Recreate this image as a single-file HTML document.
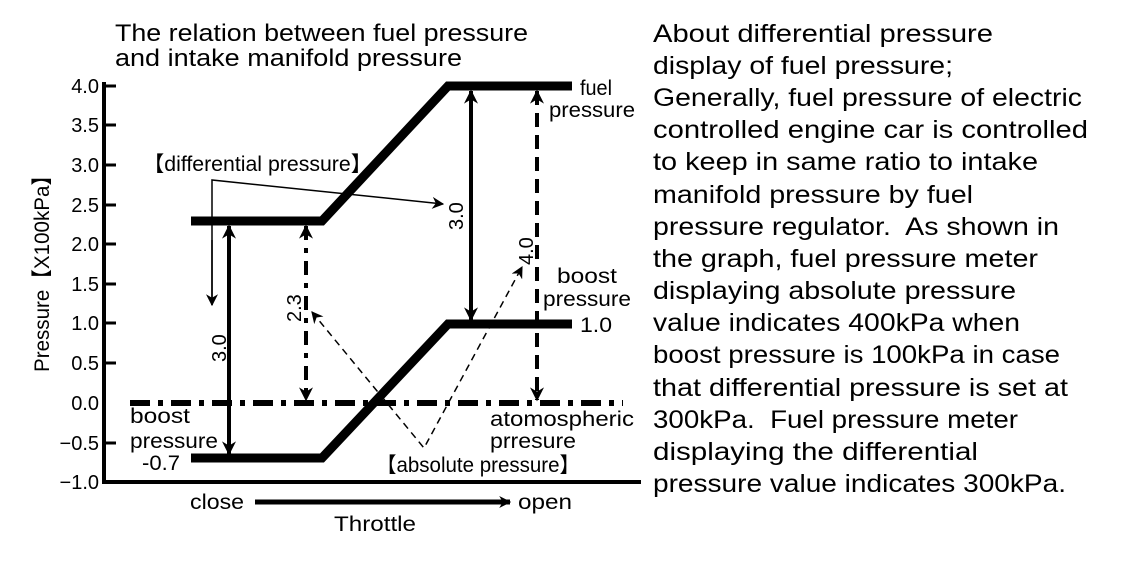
<!DOCTYPE html>
<html><head><meta charset="utf-8"><style>
html,body{margin:0;padding:0;background:#fff;}
svg{display:block;}
text{font-family:"Liberation Sans",sans-serif;fill:#000;}
</style></head><body>
<svg width="1131" height="570" viewBox="0 0 1131 570" xmlns="http://www.w3.org/2000/svg">
<defs>
<marker id="ahb" viewBox="0 0 10 10" refX="9" refY="5" markerWidth="16" markerHeight="14" orient="auto-start-reverse" markerUnits="userSpaceOnUse">
<path d="M0,0 L10,5 L0,10 L3,5 Z" fill="#000"/></marker>
<marker id="ahs" viewBox="0 0 10 10" refX="9" refY="5" markerWidth="12" markerHeight="12" orient="auto-start-reverse" markerUnits="userSpaceOnUse">
<path d="M0,0 L10,5 L0,10 L3,5 Z" fill="#000"/></marker>
</defs>

<text x="115" y="41" font-size="24" textLength="413" lengthAdjust="spacingAndGlyphs">The relation between fuel pressure</text>
<text x="115" y="66" font-size="24" textLength="347" lengthAdjust="spacingAndGlyphs">and intake manifold pressure</text>

<path d="M104,82 V482 H641" stroke="#000" stroke-width="4" fill="none"/>
<g stroke="#000" stroke-width="3">
<line x1="104" y1="86" x2="116" y2="86"/><line x1="104" y1="125" x2="116" y2="125"/>
<line x1="104" y1="165" x2="116" y2="165"/><line x1="104" y1="205" x2="116" y2="205"/>
<line x1="104" y1="244" x2="116" y2="244"/><line x1="104" y1="284" x2="116" y2="284"/>
<line x1="104" y1="323" x2="116" y2="323"/><line x1="104" y1="363" x2="116" y2="363"/>
<line x1="104" y1="443" x2="116" y2="443"/>
</g>
<g font-size="20" text-anchor="end">
<text x="99" y="93">4.0</text><text x="99" y="132">3.5</text><text x="99" y="172">3.0</text>
<text x="99" y="212">2.5</text><text x="99" y="251">2.0</text><text x="99" y="291">1.5</text>
<text x="99" y="330">1.0</text><text x="99" y="370">0.5</text><text x="99" y="410">0.0</text>
<text x="99" y="450">−0.5</text><text x="99" y="489">−1.0</text>
</g>
<text transform="translate(49,372) rotate(-90)" font-size="21" textLength="207" lengthAdjust="spacingAndGlyphs">Pressure【X100kPa】</text>

<line x1="130" y1="403" x2="623" y2="403" stroke="#000" stroke-width="6" stroke-dasharray="20,8,5,8"/>

<polyline points="191,221 322,221 448,86 572,86" stroke="#000" stroke-width="9" fill="none"/>
<polyline points="191,458 322,458 448,324 572,324" stroke="#000" stroke-width="9" fill="none"/>

<line x1="229" y1="226" x2="229" y2="454" stroke="#000" stroke-width="4" marker-start="url(#ahb)" marker-end="url(#ahb)"/>
<line x1="306" y1="226" x2="306" y2="400" stroke="#000" stroke-width="4" stroke-dasharray="14,8,5,8" marker-start="url(#ahb)" marker-end="url(#ahb)"/>
<line x1="471" y1="91" x2="471" y2="320" stroke="#000" stroke-width="4" marker-start="url(#ahb)" marker-end="url(#ahb)"/>
<line x1="537" y1="91" x2="537" y2="400" stroke="#000" stroke-width="4" stroke-dasharray="14,8" marker-start="url(#ahb)" marker-end="url(#ahb)"/>

<polyline points="212,305 212,180 443,204" stroke="#000" stroke-width="1.5" fill="none" marker-end="url(#ahs)"/>
<line x1="212" y1="240" x2="212" y2="305" stroke="#000" stroke-width="1.5" marker-end="url(#ahs)"/>
<polyline points="312,312 424,448 522,267" stroke="#000" stroke-width="1.5" fill="none" stroke-dasharray="7,5" marker-start="url(#ahs)" marker-end="url(#ahs)"/>

<text x="143" y="171" font-size="21" textLength="229" lengthAdjust="spacingAndGlyphs">【differential pressure】</text>
<text transform="translate(463,230) rotate(-90)" font-size="20">3.0</text>
<text transform="translate(533,265) rotate(-90)" font-size="20">4.0</text>
<text transform="translate(301,322) rotate(-90)" font-size="20">2.3</text>
<text transform="translate(226,362) rotate(-90)" font-size="20">3.0</text>
<g font-size="21">
<text x="580" y="95" textLength="32" lengthAdjust="spacingAndGlyphs">fuel</text>
<text x="549" y="117" textLength="86" lengthAdjust="spacingAndGlyphs">pressure</text>
<text x="557" y="283" textLength="60" lengthAdjust="spacingAndGlyphs">boost</text>
<text x="543" y="306" textLength="88" lengthAdjust="spacingAndGlyphs">pressure</text>
<text x="580" y="332" textLength="32" lengthAdjust="spacingAndGlyphs">1.0</text>
<text x="130" y="423" textLength="60" lengthAdjust="spacingAndGlyphs">boost</text>
<text x="130" y="448" textLength="88" lengthAdjust="spacingAndGlyphs">pressure</text>
<text x="142" y="470" textLength="38" lengthAdjust="spacingAndGlyphs">-0.7</text>
<text x="490" y="426" textLength="144" lengthAdjust="spacingAndGlyphs">atomospheric</text>
<text x="490" y="448" textLength="86" lengthAdjust="spacingAndGlyphs">prresure</text>
<text x="376" y="472" textLength="204" lengthAdjust="spacingAndGlyphs">【absolute pressure】</text>
<text x="190" y="509" textLength="54" lengthAdjust="spacingAndGlyphs">close</text>
<text x="518" y="509" textLength="54" lengthAdjust="spacingAndGlyphs">open</text>
<text x="334" y="531" textLength="82" lengthAdjust="spacingAndGlyphs">Throttle</text>
</g>
<line x1="255" y1="502" x2="510" y2="502" stroke="#000" stroke-width="5" marker-end="url(#ahs)"/>

<g font-size="25">
<text x="653" y="42" textLength="340" lengthAdjust="spacingAndGlyphs">About differential pressure</text>
<text x="653" y="74" textLength="300" lengthAdjust="spacingAndGlyphs">display of fuel pressure;</text>
<text x="653" y="106" textLength="429" lengthAdjust="spacingAndGlyphs">Generally, fuel pressure of electric</text>
<text x="653" y="138" textLength="435" lengthAdjust="spacingAndGlyphs">controlled engine car is controlled</text>
<text x="653" y="170" textLength="385" lengthAdjust="spacingAndGlyphs">to keep in same ratio to intake</text>
<text x="653" y="203" textLength="320" lengthAdjust="spacingAndGlyphs">manifold pressure by fuel</text>
<text x="653" y="235" textLength="406" lengthAdjust="spacingAndGlyphs">pressure regulator.&#160; As shown in</text>
<text x="653" y="267" textLength="385" lengthAdjust="spacingAndGlyphs">the graph, fuel pressure meter</text>
<text x="653" y="299" textLength="363" lengthAdjust="spacingAndGlyphs">displaying absolute pressure</text>
<text x="653" y="331" textLength="367" lengthAdjust="spacingAndGlyphs">value indicates 400kPa when</text>
<text x="653" y="363" textLength="407" lengthAdjust="spacingAndGlyphs">boost pressure is 100kPa in case</text>
<text x="653" y="396" textLength="415" lengthAdjust="spacingAndGlyphs">that differential pressure is set at</text>
<text x="653" y="428" textLength="365" lengthAdjust="spacingAndGlyphs">300kPa.&#160; Fuel pressure meter</text>
<text x="653" y="460" textLength="325" lengthAdjust="spacingAndGlyphs">displaying the differential</text>
<text x="653" y="492" textLength="413" lengthAdjust="spacingAndGlyphs">pressure value indicates 300kPa.</text>
</g>
</svg>
</body></html>
